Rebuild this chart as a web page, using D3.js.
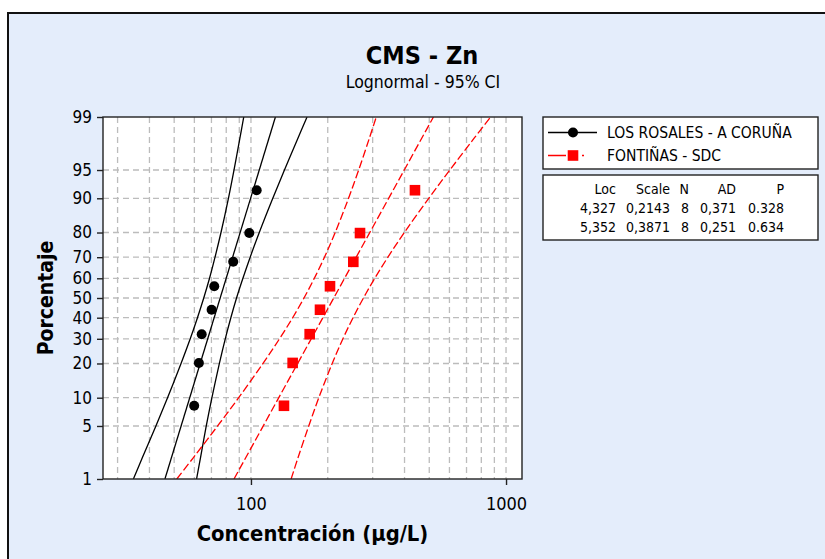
<!DOCTYPE html>
<html lang="es">

<head>
    <meta charset="UTF-8">
    <title>CMS - Zn</title>
    <style>
        body {
            margin: 0;
            background-color: #fff;
        }

        text {
            font-family: "DejaVu Sans Condensed", "DejaVu Sans", sans-serif;
            font-stretch: condensed;
        }
    </style>
</head>

<body>
    <script src="https://d3js.org/d3.v7.min.js"></script>
    <div id="my_dataviz"></div>
    <script>

        // ---- data ----
        const seriesNames = ["LOS ROSALES - A CORUÑA", "FONTIÑAS - SDC"];
        const pointPct = [8.3, 20.2, 32.1, 44.0, 56.0, 67.9, 79.8, 91.7];
        const rosales = [59.9, 62.5, 64.1, 70.1, 71.8, 85.2, 98.5, 105.3];
        const fontinas = [134.7, 145.7, 169.9, 186.5, 204.1, 251.9, 267.6, 439.5];

        // fitted line end points (at 1% and 99%)
        const fitPct = [1, 99];
        const rosalesFit = [46.0, 124.7];
        const fontinasFit = [85.8, 519.3];

        // 95% CI bands
        const ciPct = [1, 2, 5, 10, 20, 30, 40, 50, 60, 70, 80, 90, 95, 98, 99];
        const rosalesLow = [34.6, 37.5, 42.4, 47.1, 53.2, 57.8, 61.7, 65.3, 68.8, 72.3, 76.3, 81.6, 85.8, 90.5, 93.7];
        const rosalesHigh = [61.2, 63.4, 66.8, 70.3, 75.2, 79.3, 83.4, 87.8, 93.0, 99.3, 107.8, 121.8, 135.3, 152.8, 165.9];
        const fontinasLow = [51.2, 59.4, 74.0, 89.5, 111.5, 129.4, 145.7, 161.4, 177.2, 194.2, 213.9, 241.3, 264.4, 291.2, 309.9];
        const fontinasHigh = [143.7, 152.9, 168.5, 184.5, 208.2, 229.3, 251.3, 276.0, 305.7, 344.2, 399.4, 497.8, 602.0, 749.9, 870.4];

        // axis ticks / grid
        const pctTicks = [1, 5, 10, 20, 30, 40, 50, 60, 70, 80, 90, 95, 99];
        const xTicks = [100, 1000];
        const xGrid = [30, 40, 50, 60, 70, 80, 90, 100, 200, 300, 400, 500, 600, 700, 800, 900, 1000];

        // stats table
        const tableHead = ["Loc", "Scale", "N", "AD", "P"];
        const tableRows = [
            ["4,327", "0,2143", "8", "0,371", "0.328"],
            ["5,352", "0,3871", "8", "0,251", "0.634"]
        ];

        // ---- layout ----
        const W = 825, H = 559;
        const plot = { left: 103, right: 522, top: 117, bottom: 479 };
        const bg = "#e4edfb";

        // inverse normal cdf (Acklam)
        function probit(p) {
            const a = [-3.969683028665376e+01, 2.209460984245205e+02, -2.759285104469687e+02, 1.383577518672690e+02, -3.066479806614716e+01, 2.506628277459239e+00];
            const b = [-5.447609879822406e+01, 1.615858368580409e+02, -1.556989798598866e+02, 6.680131188771972e+01, -1.328068155288572e+01];
            const c = [-7.784894002430293e-03, -3.223964580411365e-01, -2.400758277161838e+00, -2.549732539343734e+00, 4.374664141464968e+00, 2.938163982698783e+00];
            const d = [7.784695709041462e-03, 3.224671290700398e-01, 2.445134137142996e+00, 3.754408661907416e+00];
            const pl = 0.02425;
            let q, r;
            if (p < pl) {
                q = Math.sqrt(-2 * Math.log(p));
                return (((((c[0] * q + c[1]) * q + c[2]) * q + c[3]) * q + c[4]) * q + c[5]) / ((((d[0] * q + d[1]) * q + d[2]) * q + d[3]) * q + 1);
            } else if (p <= 1 - pl) {
                q = p - 0.5; r = q * q;
                return (((((a[0] * r + a[1]) * r + a[2]) * r + a[3]) * r + a[4]) * r + a[5]) * q / (((((b[0] * r + b[1]) * r + b[2]) * r + b[3]) * r + b[4]) * r + 1);
            }
            q = Math.sqrt(-2 * Math.log(1 - p));
            return -(((((c[0] * q + c[1]) * q + c[2]) * q + c[3]) * q + c[4]) * q + c[5]) / ((((d[0] * q + d[1]) * q + d[2]) * q + d[3]) * q + 1);
        }

        const svg = d3.select("#my_dataviz")
            .append("svg")
            .attr("width", W)
            .attr("height", H)
            .style("display", "block");

        // outer panel
        svg.append("rect")
            .attr("x", 8).attr("y", 13)
            .attr("width", W + 20).attr("height", H + 20)
            .attr("fill", bg)
            .attr("stroke", "#111")
            .attr("stroke-width", 2);

        // scales
        const x = d3.scaleLog().domain([26.3, 1155]).range([plot.left, plot.right]);
        const yz = d3.scaleLinear().domain([probit(0.01), probit(0.99)]).range([plot.bottom, plot.top]);
        const y = p => yz(probit(p / 100));

        // plot background
        svg.append("rect")
            .attr("x", plot.left).attr("y", plot.top)
            .attr("width", plot.right - plot.left).attr("height", plot.bottom - plot.top)
            .attr("fill", "#fff");

        // grid
        const grid = svg.append("g")
            .attr("stroke", "#bcbcbc")
            .attr("stroke-width", 1.3)
            .attr("stroke-dasharray", "6,4");
        grid.selectAll(".vg")
            .data(xGrid)
            .join("line")
            .attr("x1", d => x(d)).attr("x2", d => x(d))
            .attr("y1", plot.top).attr("y2", plot.bottom);
        grid.selectAll(".hg")
            .data(pctTicks.slice(1, -1))
            .join("line")
            .attr("x1", plot.left).attr("x2", plot.right)
            .attr("y1", d => y(d)).attr("y2", d => y(d));

        // clip for the curves
        svg.append("clipPath").attr("id", "clip")
            .append("rect")
            .attr("x", plot.left).attr("y", plot.top)
            .attr("width", plot.right - plot.left).attr("height", plot.bottom - plot.top);

        const curve = d3.line()
            .x(d => x(d[0]))
            .y(d => y(d[1]))
            .curve(d3.curveCatmullRom);

        const series = [
            { name: seriesNames[0], color: "#000", dash: null, pts: rosales, fit: rosalesFit, lo: rosalesLow, hi: rosalesHigh },
            { name: seriesNames[1], color: "#ff0000", dash: "8,3", pts: fontinas, fit: fontinasFit, lo: fontinasLow, hi: fontinasHigh }
        ];

        const lines = svg.append("g").attr("clip-path", "url(#clip)");
        series.forEach(s => {
            [s.lo, s.hi].forEach(arr => {
                lines.append("path")
                    .datum(arr.map((v, i) => [v, ciPct[i]]))
                    .attr("fill", "none")
                    .attr("stroke", s.color)
                    .attr("stroke-width", 1.3)
                    .attr("stroke-dasharray", s.dash)
                    .attr("d", curve);
            });
            lines.append("path")
                .datum(s.fit.map((v, i) => [v, fitPct[i]]))
                .attr("fill", "none")
                .attr("stroke", s.color)
                .attr("stroke-width", 1.3)
                .attr("stroke-dasharray", s.dash)
                .attr("d", d3.line().x(d => x(d[0])).y(d => y(d[1])));
        });

        // points
        svg.append("g")
            .selectAll("circle")
            .data(rosales)
            .join("circle")
            .attr("cx", d => x(d))
            .attr("cy", (d, i) => y(pointPct[i]))
            .attr("r", 5)
            .attr("fill", "#000");
        svg.append("g")
            .selectAll("rect")
            .data(fontinas)
            .join("rect")
            .attr("x", d => x(d) - 5.3)
            .attr("y", (d, i) => y(pointPct[i]) - 5.3)
            .attr("width", 10.6).attr("height", 10.6)
            .attr("fill", "#ff0000");

        // plot frame
        svg.append("rect")
            .attr("x", plot.left).attr("y", plot.top)
            .attr("width", plot.right - plot.left).attr("height", plot.bottom - plot.top)
            .attr("fill", "none")
            .attr("stroke", "#222")
            .attr("stroke-width", 1.4);

        // axes
        const yAxis = svg.append("g")
            .attr("transform", `translate(${plot.left},0)`)
            .call(d3.axisLeft(yz)
                .tickValues(pctTicks.map(p => probit(p / 100)))
                .tickFormat((d, i) => pctTicks[i])
                .tickSize(6).tickPadding(5));
        const xAxis = svg.append("g")
            .attr("transform", `translate(0,${plot.bottom})`)
            .call(d3.axisBottom(x)
                .tickValues(xTicks)
                .tickFormat(d3.format("d"))
                .tickSize(6).tickPadding(12));
        [xAxis, yAxis].forEach(g => {
            g.select(".domain").remove();
            g.selectAll(".tick line").attr("stroke", "#222").attr("stroke-width", 1.4);
            g.selectAll("text")
                .attr("fill", "#000")
                .style("font-family", '"DejaVu Sans Condensed", "DejaVu Sans", sans-serif')
                .style("font-size", "17px");
        });
        xAxis.selectAll("text").style("font-size", "18px");

        // titles
        svg.append("text")
            .attr("x", 422).attr("y", 64)
            .attr("text-anchor", "middle")
            .style("font-size", "25px").style("font-weight", "bold")
            .text("CMS - Zn");
        svg.append("text")
            .attr("x", 423).attr("y", 88)
            .attr("text-anchor", "middle")
            .style("font-size", "17.5px")
            .text("Lognormal - 95% CI");
        svg.append("text")
            .attr("x", (plot.left + plot.right) / 2).attr("y", 541)
            .attr("text-anchor", "middle")
            .style("font-size", "21.8px").style("font-weight", "bold")
            .text("Concentración (µg/L)");
        svg.append("text")
            .attr("transform", `translate(53,${(plot.top + plot.bottom) / 2}) rotate(-90)`)
            .attr("text-anchor", "middle")
            .style("font-size", "21px").style("font-weight", "bold")
            .text("Porcentaje");

        // legend
        const leg = svg.append("g");
        leg.append("rect")
            .attr("x", 543).attr("y", 117).attr("width", 275).attr("height", 52)
            .attr("fill", "#fff").attr("stroke", "#222").attr("stroke-width", 1.4);
        const legY = [132.5, 155.5];
        series.forEach((s, i) => {
            leg.append("line")
                .attr("x1", 548).attr("x2", 597)
                .attr("y1", legY[i]).attr("y2", legY[i])
                .attr("stroke", s.color).attr("stroke-width", 1.3)
                .attr("stroke-dasharray", i === 0 ? null : "18,6,6,4,2,20");
            if (i === 0) {
                leg.append("circle").attr("cx", 573).attr("cy", legY[i]).attr("r", 5).attr("fill", s.color);
            } else {
                leg.append("rect").attr("x", 567.7).attr("y", legY[i] - 5.3).attr("width", 10.6).attr("height", 10.6).attr("fill", s.color);
            }
            leg.append("text")
                .attr("x", 607).attr("y", legY[i] + 5.5)
                .style("font-size", "15.5px")
                .text(s.name);
        });

        // stats table
        const tab = svg.append("g");
        tab.append("rect")
            .attr("x", 543).attr("y", 175).attr("width", 275).attr("height", 65)
            .attr("fill", "#fff").attr("stroke", "#222").attr("stroke-width", 1.4);
        const colX = [616, 670, 689, 736, 784];
        const rowY = [194, 213, 232];
        [tableHead].concat(tableRows).forEach((row, r) => {
            tab.selectAll(null)
                .data(row)
                .join("text")
                .attr("x", (d, c) => colX[c])
                .attr("y", rowY[r])
                .attr("text-anchor", "end")
                .style("font-size", "14px")
                .text(d => d);
        });

    </script>
</body>

</html>
